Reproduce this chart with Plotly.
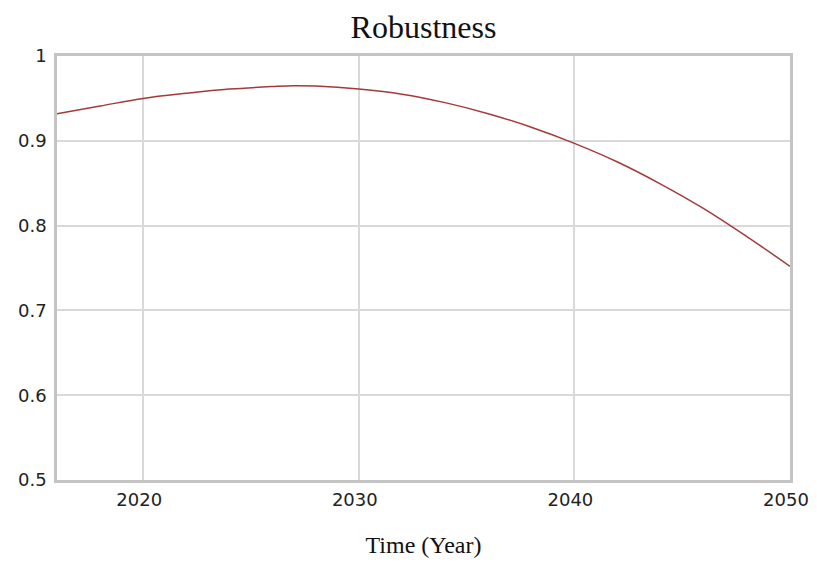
import plotly.graph_objects as go

# Robustness over time
years = [2016, 2018, 2020, 2022, 2024, 2026, 2027, 2028, 2030, 2032, 2034,
         2036, 2038, 2040, 2042, 2044, 2046, 2048, 2050]
robustness = [0.932, 0.941, 0.950, 0.956, 0.961, 0.964, 0.965, 0.9645, 0.961,
              0.955, 0.945, 0.932, 0.916, 0.897, 0.875, 0.849, 0.820, 0.787, 0.752]

x_ticks = [2020, 2030, 2040, 2050]

axis_col = "#c4c4c4"
grid_col = "#d9d9d9"
tick_font = dict(family="DejaVu Sans, sans-serif", size=18, color="#222")
serif = "Liberation Serif, Times New Roman, serif"

fig = go.Figure()
fig.add_trace(go.Scatter(
    x=years, y=robustness, mode="lines", line_shape="spline",
    line=dict(color="#a33a3a", width=1.5), showlegend=False,
))

# page body adds ~8px offset, so the figure is a bit smaller than the window
fig.update_layout(
    width=809, height=550,
    margin=dict(l=49, r=27, t=48, b=78, autoexpand=False),
    paper_bgcolor="white", plot_bgcolor="white",
    title=dict(text="Robustness", x=0.5, xref="paper", y=0.966, yanchor="middle",
               font=dict(family=serif, size=32, color="#111")),
)
fig.update_xaxes(
    range=[2016, 2050], tickvals=x_ticks, tickfont=tick_font,
    ticklabeloverflow="allow", ticklabelshift=-4,
    showgrid=True, gridcolor=grid_col, gridwidth=1.5,
    showline=True, linecolor=axis_col, linewidth=2.5, mirror=True,
    ticks="outside", ticklen=2, tickcolor="rgba(0,0,0,0)", zeroline=False,
    automargin=False,
    title=dict(text="Time (Year)", font=dict(family=serif, size=24, color="#111"), standoff=28),
)
fig.update_yaxes(
    range=[0.5, 1], dtick=0.1, tickfont=tick_font,
    showgrid=True, gridcolor=grid_col, gridwidth=1.5,
    showline=True, linecolor=axis_col, linewidth=2.5, mirror=True,
    ticks="outside", ticklen=4, tickcolor="rgba(0,0,0,0)", zeroline=False,
    automargin=False,
)

fig.write_html("out.html")
